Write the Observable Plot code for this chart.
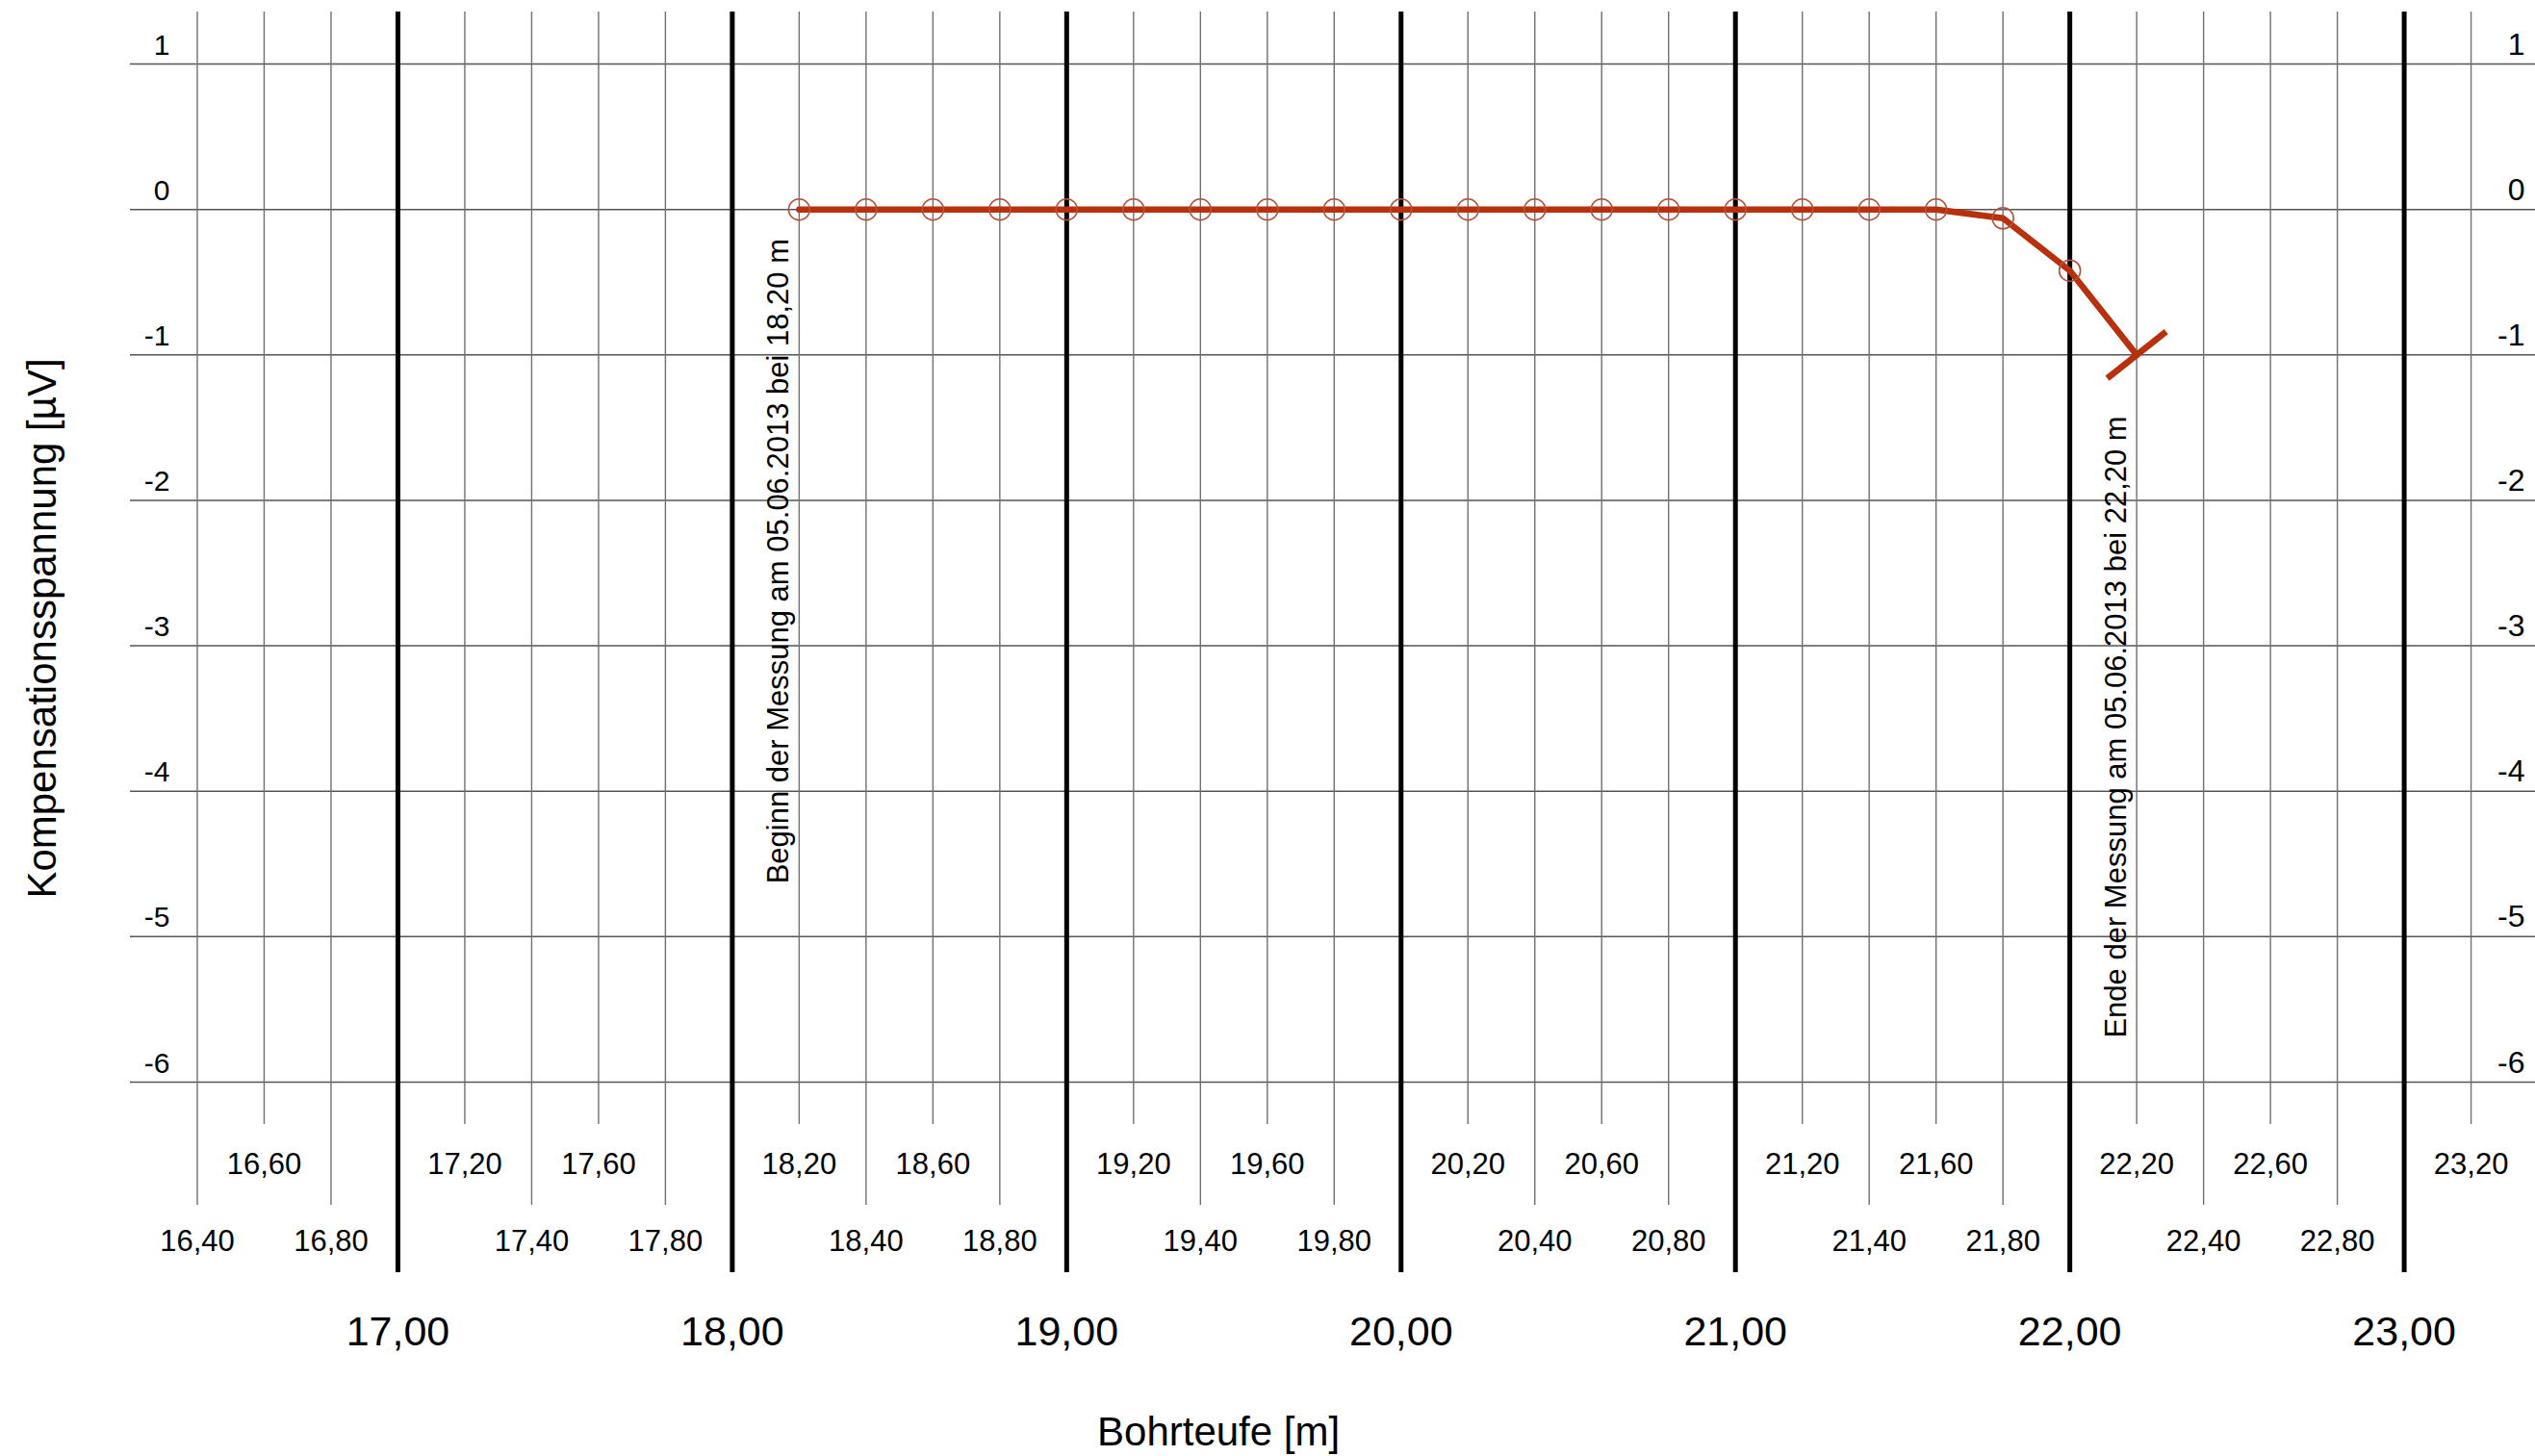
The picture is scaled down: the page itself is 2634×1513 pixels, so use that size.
<!DOCTYPE html>
<html>
<head>
<meta charset="utf-8">
<script src="https://cdn.jsdelivr.net/npm/d3@7"></script>
<script src="https://cdn.jsdelivr.net/npm/@observablehq/plot@0.6"></script>
<style>
  html, body { margin: 0; padding: 0; background: #fff; overflow: hidden; }
  #chart svg { display: block; }
</style>
</head>
<body>
<div id="chart"></div>
<script>
// ---- data ----
const depth = [18.2, 18.4, 18.6, 18.8, 19.0, 19.2, 19.4, 19.6, 19.8, 20.0, 20.2, 20.4, 20.6, 20.8, 21.0, 21.2, 21.4, 21.6, 21.8, 22.0, 22.2];
const spannung = [0, 0, 0, 0, 0, 0, 0, 0, 0, 0, 0, 0, 0, 0, 0, 0, 0, 0, -0.06, -0.42, -1.0];

const yTicks = [1, 0, -1, -2, -3, -4, -5, -6];
const majorTicks = [17, 18, 19, 20, 21, 22, 23];
const upperRow = [16.6, 17.2, 17.6, 18.2, 18.6, 19.2, 19.6, 20.2, 20.6, 21.2, 21.6, 22.2, 22.6, 23.2];
const lowerRow = [16.4, 16.8, 17.4, 17.8, 18.4, 18.8, 19.4, 19.8, 20.4, 20.8, 21.4, 21.8, 22.4, 22.8];
const minorTicks = [...upperRow, ...lowerRow];

const annotations = [
  {x: 18.2, y: -0.2, text: "Beginn der Messung am 05.06.2013 bei 18,20 m"},
  {x: 22.2, y: -1.42, text: "Ende der Messung am 05.06.2013 bei 22,20 m"}
];
const xTitle = "Bohrteufe [m]";
const yTitle = "Kompensationsspannung [µV]";

// ---- build ----
const data = depth.map((d, i) => ({x: d, y: spannung[i]}));
const circles = data.slice(0, -1);
const fmt = d => d.toFixed(2).replace(".", ",");
const lineColor = "#b8300c";

function build(extra) {
  return Plot.plot({
    width: 2634,
    height: 1513,
    marginLeft: 135,
    marginRight: 0,
    marginTop: 12,
    marginBottom: 389,
    style: {fontFamily: "'Liberation Sans', Arial, sans-serif", background: "#fff", color: "#000"},
    x: {domain: [16.2, 23.3926], axis: null},
    y: {domain: [-6, 1.358], axis: null},
    marks: [
      Plot.ruleY(yTicks, {stroke: "#555", strokeWidth: 1.5}),
      Plot.ruleX(minorTicks, {stroke: "#707070", strokeWidth: 1.4}),
      Plot.ruleX(majorTicks, {stroke: "#000", strokeWidth: 5}),
      Plot.axisX(upperRow, {anchor: "bottom", tickSize: 44, tickPadding: 29, fontSize: 31, tickFormat: fmt, stroke: "#707070", strokeWidth: 1.4, label: null}),
      Plot.axisX(lowerRow, {anchor: "bottom", tickSize: 128, tickPadding: 25, fontSize: 31, tickFormat: fmt, stroke: "#707070", strokeWidth: 1.4, label: null}),
      Plot.axisX(majorTicks, {anchor: "bottom", tickSize: 198, tickPadding: 45, fontSize: 43, tickFormat: fmt, stroke: "#000", strokeWidth: 5, label: null}),
      Plot.text(yTicks, {y: d => d, text: d => String(d), frameAnchor: "left", dx: 41, dy: -10, textAnchor: "end", lineAnchor: "bottom", fontSize: 30}),
      Plot.text(yTicks, {y: d => d, text: d => String(d), frameAnchor: "right", dx: -11, dy: -10, textAnchor: "end", lineAnchor: "bottom", fontSize: 32}),
      Plot.text(annotations, {x: "x", y: "y", text: "text", rotate: -90, textAnchor: "end", lineAnchor: "middle", dx: -21, fontSize: 31}),
      Plot.line(data, {x: "x", y: "y", stroke: lineColor, strokeWidth: 6.5}),
      Plot.dot(circles, {x: "x", y: "y", r: 11, stroke: "#b5523a", strokeWidth: 1.6, fill: "none"}),
      Plot.text([yTitle], {text: d => d, frameAnchor: "left", y: -2.88, dx: -91, rotate: -90, textAnchor: "middle", lineAnchor: "middle", fontSize: 42}),
      Plot.text([xTitle], {text: d => d, x: 19.454, frameAnchor: "bottom", dy: 364, textAnchor: "middle", lineAnchor: "middle", fontSize: 42}),
      ...extra
    ]
  });
}

// end-of-measurement tick, perpendicular to the last segment, derived via the plot's scales
const probe = build([]);
const sx = probe.scale("x"), sy = probe.scale("y");
const n = depth.length;
const p0 = [sx.apply(depth[n - 2]), sy.apply(spannung[n - 2])];
const p1 = [sx.apply(depth[n - 1]), sy.apply(spannung[n - 1])];
const L = Math.hypot(p1[0] - p0[0], p1[1] - p0[1]);
const ux = (p1[0] - p0[0]) / L, uy = (p1[1] - p0[1]) / L;
const half = 39;
const endTick = [{
  x1: sx.invert(p1[0] - uy * half), y1: sy.invert(p1[1] + ux * half),
  x2: sx.invert(p1[0] + uy * half), y2: sy.invert(p1[1] - ux * half)
}];

const chart = build([
  Plot.link(endTick, {x1: "x1", y1: "y1", x2: "x2", y2: "y2", stroke: lineColor, strokeWidth: 6.5})
]);
document.getElementById("chart").appendChild(chart);
</script>
</body>
</html>
